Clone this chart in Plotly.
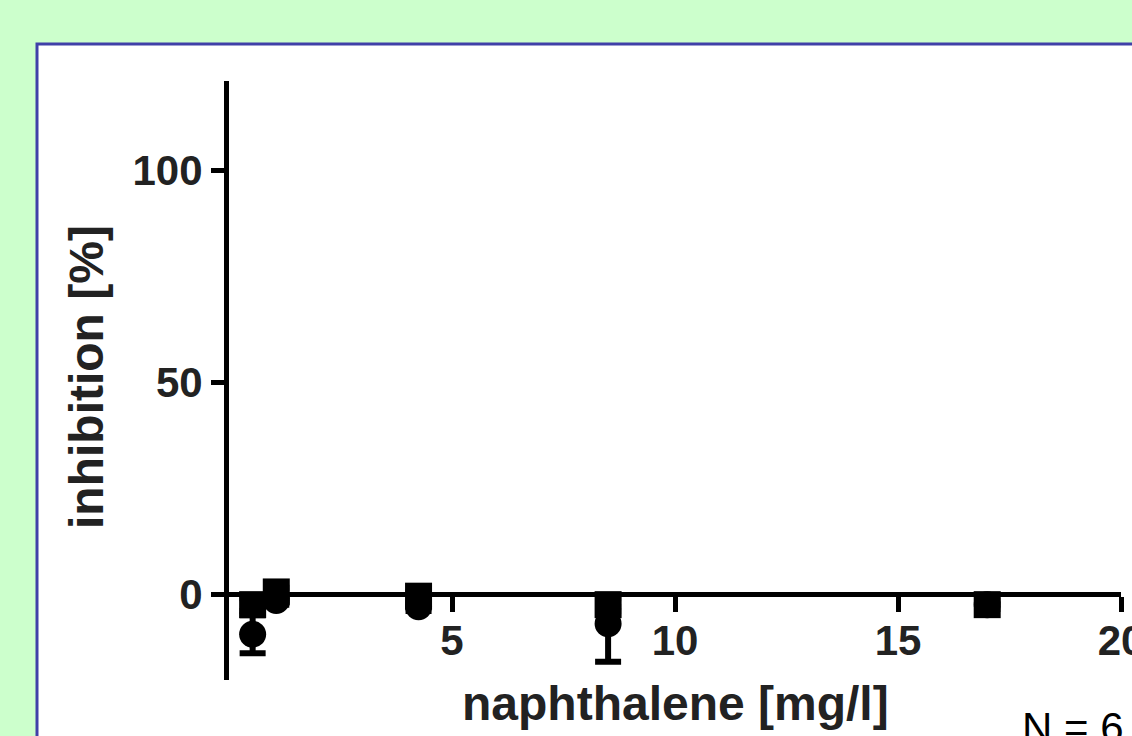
import plotly.graph_objects as go

# ---- data ----
conc = [0.53, 1.06, 4.25, 8.5, 17.0]          # naphthalene [mg/l]
inhib_sq = [-2.5, 0.5, -0.5, -2.5, -2.5]       # series 1 (squares)
inhib_ci = [-9.5, -1.5, -3.0, -7.0, -2.5]      # series 2 (circles)
err_ci_plus = [4.5, 1.0, 1.0, 4.0, 1.0]
err_ci_minus = [4.5, 1.0, 1.0, 9.0, 1.0]
err_sq = [1.5, 1.0, 1.0, 1.5, 1.0]
y_ticks = [0, 50, 100]
x_ticks = [5, 10, 15, 20]

W, H = 1132, 736
ML, MR, MT, MB = 229, 11, 81, 56
YMIN, YMAX = -20.3, 121.2
XMIN, XMAX = 0, 20
pw = W - ML - MR
ph = H - MT - MB

def px(xpix):
    return (xpix - ML) / pw

def py(ypix):
    return (H - MB - ypix) / ph

fig = go.Figure()
fig.add_trace(go.Scatter(
    x=conc, y=inhib_ci, mode="markers",
    marker=dict(symbol="circle", size=27, color="black"),
    error_y=dict(type="data", array=err_ci_plus, arrayminus=err_ci_minus,
                 color="black", thickness=6, width=13),
    showlegend=False, cliponaxis=False))
fig.add_trace(go.Scatter(
    x=conc, y=inhib_sq, mode="markers",
    marker=dict(symbol="square", size=27, color="black"),
    error_y=dict(type="data", array=err_sq, color="black", thickness=6, width=13),
    showlegend=False, cliponaxis=False))

tfont = dict(family="Liberation Sans, Arial", size=42, color="#222222", weight="bold")
fig.update_layout(
    width=W, height=H,
    margin=dict(l=ML, r=MR, t=MT, b=MB, autoexpand=False),
    paper_bgcolor="#ccffcc",
    plot_bgcolor="white",
    font=dict(family="Liberation Sans, Arial", color="#222222"),
    xaxis=dict(range=[XMIN, XMAX], showgrid=False, zeroline=False,
               showline=True, linewidth=5, linecolor="black",
               ticks="outside", ticklen=15, tickwidth=5, tickcolor="black",
               tickvals=x_ticks, ticktext=[str(v) for v in x_ticks],
               tickfont=tfont, ticklabeloverflow="allow", ticklabelstandoff=-7,
               anchor="free", position=(0 - YMIN) / (YMAX - YMIN)),
    yaxis=dict(range=[YMIN, YMAX], showgrid=False, zeroline=False,
               showline=True, linewidth=5, linecolor="black",
               ticks="outside", ticklen=13, tickwidth=5, tickcolor="black",
               tickvals=y_ticks, ticktext=[str(v) for v in y_ticks],
               tickfont=tfont),
    shapes=[dict(type="rect", xref="paper", yref="paper", layer="below",
                 x0=px(37), x1=px(1200), y0=py(800), y1=py(44),
                 fillcolor="white", line=dict(color="#4040a8", width=3))],
    annotations=[
        dict(text="<b>naphthalene [mg/l]</b>", xref="paper", yref="paper",
             x=0.5, y=py(703), xanchor="center", yanchor="middle", showarrow=False,
             font=dict(family="Liberation Sans, Arial", size=48, color="#222222")),
        dict(text="<b>inhibition [%]</b>", xref="paper", yref="paper", textangle=-90,
             x=px(86), y=py(377), xanchor="center", yanchor="middle", showarrow=False,
             font=dict(family="Liberation Sans, Arial", size=48, color="#222222")),
        dict(text="N = 6", xref="paper", yref="paper",
             x=px(1020), y=py(702), xanchor="left", yanchor="top", showarrow=False,
             font=dict(family="Liberation Sans, Arial", size=42, color="black")),
    ],
)

fig.write_html("out.html", config={"displayModeBar": False},
               post_script="document.body.style.margin='0';document.body.style.overflow='hidden';")
